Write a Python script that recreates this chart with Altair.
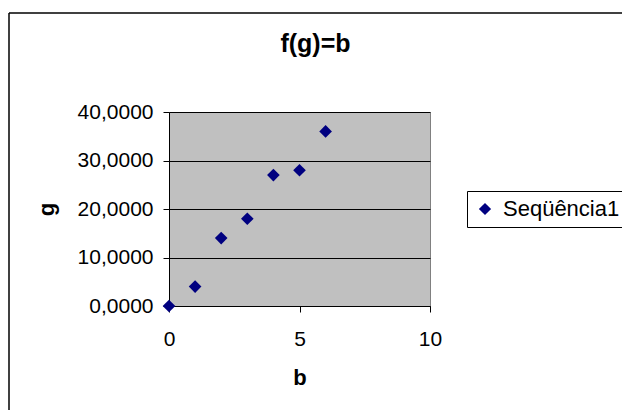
import altair as alt
import pandas as pd

b_values = [0, 1, 2, 3, 4, 5, 6]
g_values = [0, 4, 14, 18, 27, 28, 36]
series_name = "Seqüência1"
chart_title = "f(g)=b"
x_ticks = [0, 5, 10]
y_ticks = [0, 10, 20, 30, 40]

df = pd.DataFrame({"b": b_values, "g": g_values, "serie": [series_name] * len(b_values)})
one = pd.DataFrame({"t": [chart_title]})

FONT = "Liberation Sans"

points = alt.Chart(df).mark_point(
    filled=True, shape="diamond", size=160, opacity=1
).encode(
    x=alt.X("b:Q", scale=alt.Scale(domain=[0, 10], nice=False),
            axis=alt.Axis(values=x_ticks, title="b", grid=False, labelFlush=False,
                          titleY=78, titleBaseline="alphabetic",
                          labelPadding=16)),
    y=alt.Y("g:Q", scale=alt.Scale(domain=[0, 40], nice=False),
            axis=alt.Axis(values=y_ticks, title="g", grid=True,
                          labelExpr="replace(format(datum.value, '.4f'), '.', ',')",
                          titleX=-116, titleY=97, titleAngle=-90,
                          titleBaseline="alphabetic", titleAlign="center",
                          labelPadding=10)),
    color=alt.Color("serie:N", scale=alt.Scale(domain=[series_name], range=["#000080"]),
                    legend=alt.Legend(title=None, orient="none", legendX=298, legendY=79,
                                      symbolType="diamond", symbolSize=150,
                                      labelFontSize=22, labelFont=FONT, labelColor="black",
                                      strokeColor="black", fillColor="white", padding=7,
                                      labelOffset=7)),
)

title_text = alt.Chart(one).mark_text(
    font=FONT, fontSize=25, fontWeight="bold", color="black",
    align="center", baseline="alphabetic"
).encode(text="t:N", x=alt.value(146.5), y=alt.value(-60))

top_line = alt.Chart(one).mark_rule(color="black", strokeWidth=1.5).encode(
    x=alt.value(-160), x2=alt.value(500), y=alt.value(-99)
)
left_line = alt.Chart(one).mark_rule(color="black", strokeWidth=1.5).encode(
    x=alt.value(-160), y=alt.value(-99), y2=alt.value(400)
)

chart = alt.layer(points, title_text, top_line, left_line).properties(
    width=261, height=194,
    autosize=alt.AutoSizeParams(type="none"),
    padding={"left": 169, "top": 112, "right": 192, "bottom": 104},
    background="white",
).configure_view(
    fill="#C0C0C0", stroke="#808080", strokeWidth=1
).configure_axis(
    labelFont=FONT, labelFontSize=21, labelColor="black",
    titleFont=FONT, titleFontSize=22, titleFontWeight="bold", titleColor="black",
    domainColor="black", tickColor="black", tickSize=6,
    gridColor="black", gridOpacity=1, gridWidth=1,
)

chart.save("out.html", embed_options={"renderer": "svg", "actions": False})
